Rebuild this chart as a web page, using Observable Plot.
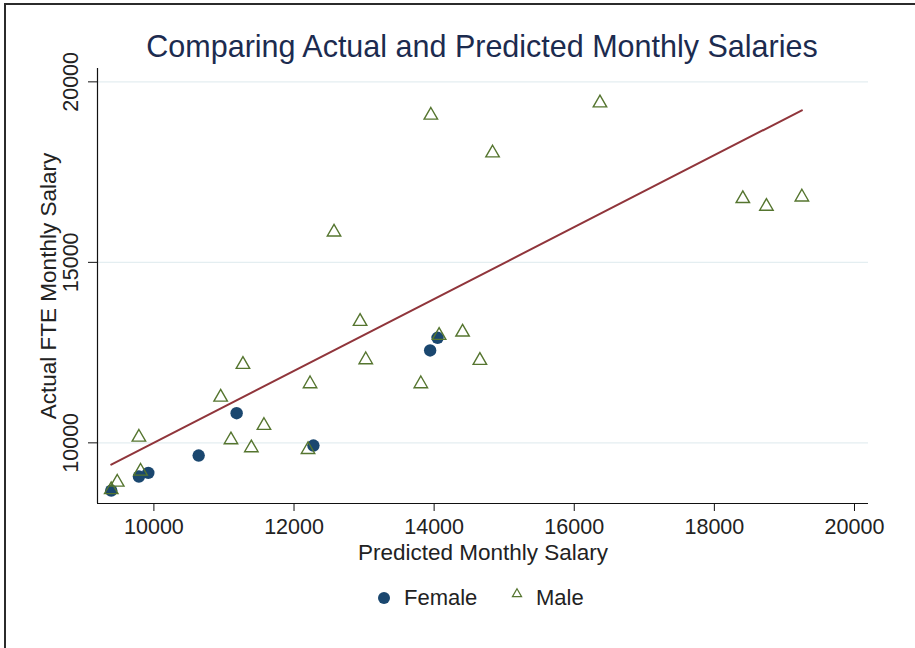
<!DOCTYPE html>
<html>
<head>
<meta charset="utf-8">
<script src="https://cdn.jsdelivr.net/npm/d3@7"></script>
<script src="https://cdn.jsdelivr.net/npm/@observablehq/plot@0.6"></script>
<style>
  body { margin: 0; background: #fff; font-family: "Liberation Sans", Arial, sans-serif; }
  #wrap { position: relative; width: 915px; height: 648px; overflow: hidden; background: #fff; }
  #frame { position: absolute; left: 4px; top: 3px; width: 1000px; height: 1000px;
           border-left: 2px solid #2b2b2b; border-top: 2px solid #2b2b2b; pointer-events: none; }
  #title { position: absolute; left: 0; top: 31px; width: 964px; text-align: center;
           font-size: 30.5px; line-height: 1; color: #1c2b4f; white-space: nowrap; }
  #legend { position: absolute; top: 0; left: 0; width: 915px; height: 648px; pointer-events: none;
            font-size: 22px; line-height: 1; color: #222; }
  #legend .lbl { position: absolute; top: 587px; }
  #legend svg { position: absolute; }
  #chart { position: absolute; left: 0; top: 0; }
</style>
</head>
<body>
<div id="wrap">
  <div id="chart"></div>
  <div id="title">Comparing Actual and Predicted Monthly Salaries</div>
  <div id="legend"></div>
  <div id="frame"></div>
</div>
<script>
// ---- Data ----
const femalePredicted = [9391, 9786, 9920, 10639, 11181, 12277, 13943, 14049];
const femaleActual    = [8678, 9066, 9168, 9648, 10821, 9925, 12559, 12911];

const malePredicted = [9391, 9477, 9786, 9810, 10953, 11100, 11271, 11391, 11571, 12200, 12229, 12571,
                       12943, 13024, 13810, 13953, 14071, 14406, 14653, 14834, 16367, 18406, 18743, 19249];
const maleActual    = [8700, 8908, 10155, 9213, 11264, 10083, 12171, 9861, 10480, 9814, 11636, 15838,
                       13363, 12301, 11636, 19074, 12975, 13066, 12282, 18029, 19415, 16765, 16551, 16809];

const fitPredicted = [9391, 19249];
const fitActual    = [9398, 19212];

const xTicks = [10000, 12000, 14000, 16000, 18000, 20000];
const yTicks = [10000, 15000, 20000];

const seriesNames = ["Female", "Male"];
const colors = { Female: "#1a476f", Male: "#55752f", fit: "#90353b", grid: "#e4eef1" };

// ---- Build tables ----
const female = femalePredicted.map((x, i) => ({ x, y: femaleActual[i] }));
const male = malePredicted.map((x, i) => ({ x, y: maleActual[i] }));
const fit = fitPredicted.map((x, i) => ({ x, y: fitActual[i] }));

const xDomain = [9195, 20200];
const yDomain = [8320, 20370];

const chart = Plot.plot({
  width: 915,
  height: 648,
  marginLeft: 97,
  marginRight: 47,
  marginTop: 68,
  marginBottom: 145,
  style: { fontFamily: "Liberation Sans, Arial, sans-serif", fontSize: "21px", color: "#222", background: "transparent", overflow: "visible" },
  x: { domain: xDomain },
  y: { domain: yDomain },
  marks: [
    Plot.gridY(yTicks, { stroke: colors.grid, strokeOpacity: 1, strokeWidth: 1.2 }),
    Plot.line(fit, { x: "x", y: "y", stroke: colors.fit, strokeWidth: 2 }),
    Plot.dot(female, { x: "x", y: "y", r: 6.2, fill: colors.Female, stroke: "none" }),
    Plot.dot(male, { x: "x", y: "y", symbol: "triangle", r: 5, stroke: colors.Male, strokeWidth: 1.4, fill: "none" }),
    Plot.ruleY([yDomain[0]], { stroke: "#111", strokeWidth: 1.2 }),
    Plot.ruleX([xDomain[0]], { stroke: "#111", strokeWidth: 1.2 }),
    Plot.axisX({ ticks: xTicks, tickSize: 8, tickPadding: 7, label: null, tickFormat: d => String(d), stroke: "#111", fontSize: 21.5 }),
    Plot.axisY({ ticks: yTicks, tickSize: 9, tickFormat: () => "", label: null, stroke: "#111" }),
    Plot.text(yTicks, { y: d => d, text: d => String(d), frameAnchor: "left", dx: -26, rotate: -90,
                        textAnchor: "middle", lineAnchor: "middle", fontSize: 21.5, fill: "#222" }),
    Plot.text(["Predicted Monthly Salary"], { frameAnchor: "bottom", dy: 49, textAnchor: "middle",
                        lineAnchor: "middle", fontSize: 22.5, fill: "#222" }),
    Plot.text(["Actual FTE Monthly Salary"], { frameAnchor: "left", dx: -49, rotate: -90, textAnchor: "middle",
                        lineAnchor: "middle", fontSize: 22.5, fill: "#222" })
  ]
});
document.getElementById("chart").appendChild(chart);

// ---- Legend ----
const legend = document.getElementById("legend");
const ns = "http://www.w3.org/2000/svg";
const legendPos = { Female: { mark: 384, text: 404 }, Male: { mark: 517, text: 536 } };
seriesNames.forEach(name => {
  const pos = legendPos[name];
  const svg = document.createElementNS(ns, "svg");
  svg.setAttribute("width", 16);
  svg.setAttribute("height", 16);
  svg.style.left = (pos.mark - 8) + "px";
  svg.style.top = (name === "Female" ? 590 : 586) + "px";
  if (name === "Female") {
    const c = document.createElementNS(ns, "circle");
    c.setAttribute("cx", 8); c.setAttribute("cy", 8); c.setAttribute("r", 6);
    c.setAttribute("fill", colors.Female);
    svg.appendChild(c);
  } else {
    const p = document.createElementNS(ns, "path");
    p.setAttribute("d", d3.symbol(d3.symbolTriangle, 36)());
    p.setAttribute("transform", "translate(8,8)");
    p.setAttribute("fill", "none");
    p.setAttribute("stroke", colors.Male);
    p.setAttribute("stroke-width", 1.2);
    svg.appendChild(p);
  }
  legend.appendChild(svg);
  const t = document.createElement("span");
  t.className = "lbl";
  t.style.left = pos.text + "px";
  t.textContent = name;
  legend.appendChild(t);
});
</script>
</body>
</html>
